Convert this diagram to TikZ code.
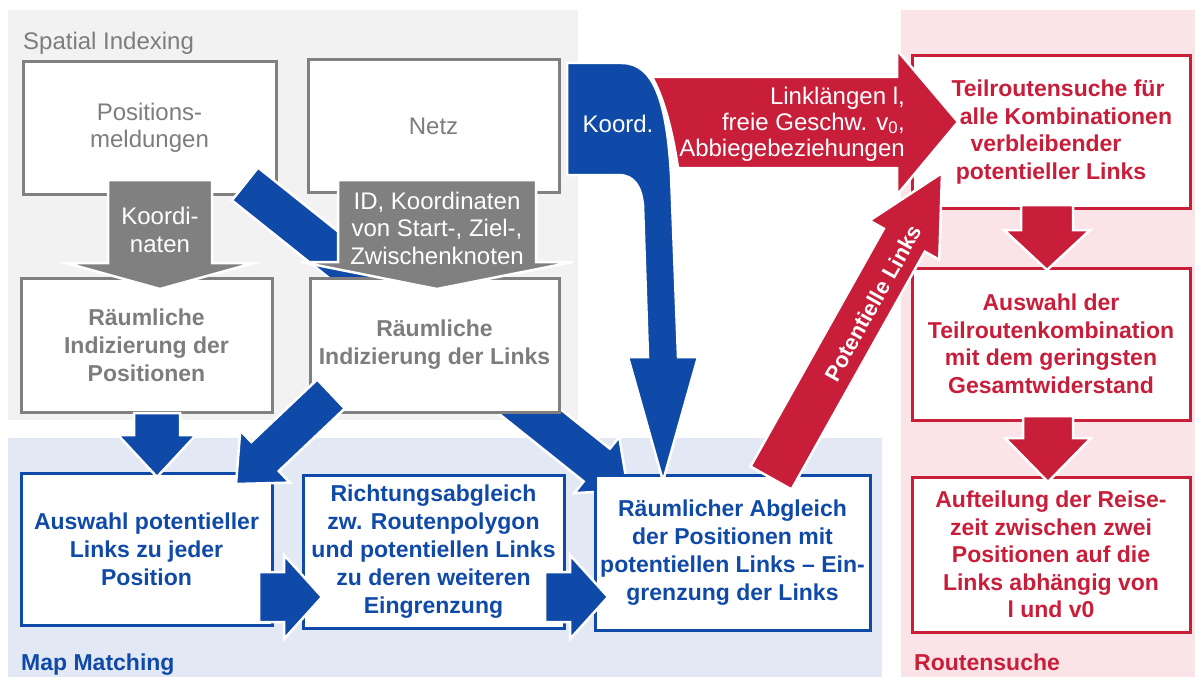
\documentclass[tikz,border=0pt]{standalone}
\usepackage{fontspec}
\setmainfont{Liberation Sans}
\usetikzlibrary{calc}
\definecolor{blueC}{RGB}{16,74,168}
\definecolor{redC}{RGB}{200,30,58}
\definecolor{grayA}{RGB}{128,128,128}
\definecolor{grayT}{RGB}{125,125,125}
\definecolor{grayBG}{RGB}{242,242,242}
\definecolor{blueBG}{RGB}{227,233,244}
\definecolor{pinkBG}{RGB}{251,228,232}
% fat arrow: #1 style, #2 tail coordinate, #3 tip coordinate, #4 half shaft, #5 half head, #6 head length
\newcommand\fatarrow[6]{%
  \coordinate (fahb) at ($(#3)!#6!(#2)$);
  \filldraw[#1] ($(#2)!#4!90:(#3)$) -- ($(fahb)!#4!-90:(#2)$) -- ($(fahb)!#5!-90:(#2)$) -- (#3)
    -- ($(fahb)!#5!90:(#2)$) -- ($(fahb)!#4!90:(#2)$) -- ($(#2)!#4!-90:(#3)$) -- cycle;}
\begin{document}
\begin{tikzpicture}[x=1pt,y=-1pt,
  boxbase/.style={fill=white, line width=3pt, align=center, inner sep=0pt},
  grayboxR/.style={boxbase, draw=grayA, text=grayT, font=\fontsize{24}{27.5}\selectfont},
  grayboxB/.style={boxbase, draw=grayA, text=grayT, font=\fontsize{23}{28}\selectfont\bfseries},
  bluebox/.style={boxbase, draw=blueC, text=blueC, font=\fontsize{23}{28}\selectfont\bfseries},
  redbox/.style={boxbase, draw=redC, text=redC, font=\fontsize{23}{27.5}\selectfont\bfseries},
  bluearrow/.style={fill=blueC, draw=white, line width=2.5pt, line join=miter},
  redarrow/.style={fill=redC, draw=white, line width=2.5pt, line join=miter},
  grayarrow/.style={fill=grayA, draw=white, line width=2.5pt, line join=miter},
  arrowlabel/.style={text=white, align=center, inner sep=0pt, font=\fontsize{24}{27.5}\selectfont},
  regionlabel/.style={anchor=base west, inner sep=0pt}]
\useasboundingbox (0,0) rectangle (1195,677);
\fill[white] (0,0) rectangle (1195,677);
% backgrounds
\fill[grayBG] (8,10) rectangle (578,420);
\fill[blueBG] (8,438) rectangle (882,677);
\fill[pinkBG] (901,10) rectangle (1195,677);
\node[regionlabel, text=grayT, font=\fontsize{24}{28}\selectfont] (lsi) at (23,50) {Spatial Indexing};
\node[regionlabel, text=blueC, font=\fontsize{23}{28}\selectfont\bfseries] (lmm) at (21,670) {Map Matching};
\node[regionlabel, text=redC, font=\fontsize{23}{28}\selectfont\bfseries] (lrs) at (914,670) {Routensuche};
% upper gray boxes
\node[grayboxR, minimum width=253pt, minimum height=132pt] (posm) at (149.5,128) {Positions-\\meldungen};
\node[grayboxR, minimum width=251pt, minimum height=132pt] (netz) at (433.5,126) {Netz};
% long blue diagonal (behind links box and gray arrow)
\coordinate (d1a) at (245,184);
\coordinate (d1b) at (628,490);
\fatarrow{bluearrow}{d1a}{d1b}{21pt}{36pt}{40pt}
% lower gray boxes
\node[grayboxB, minimum width=251pt, minimum height=134pt] (rip) at (146.5,345) {Räumliche\\Indizierung der\\Positionen};
\node[grayboxB, minimum width=249pt, minimum height=134pt] (ril) at (434.5,345) {Räumliche\\Indizierung der Links};
% blue boxes
\node[bluebox, minimum width=251pt, minimum height=152pt] (ausw) at (146.5,549) {Auswahl potentieller\\Links zu jeder\\Position};
\node[bluebox, minimum width=261pt, minimum height=153pt] (richt) at (433.5,551.5) {Richtungsabgleich\\zw. Routenpolygon\\und potentiellen Links\\zu deren weiteren\\Eingrenzung};
\node[bluebox, minimum width=275pt, minimum height=155pt] (abgl) at (732.5,552.5) {Räumlicher Abgleich\\der Positionen mit\\potentiellen Links – Ein-\\grenzung der Links};
% red boxes
\node[redbox, minimum width=278pt, minimum height=152pt] (teil) at (1051,132) {\hspace*{14pt}Teilroutensuche für\\\hspace*{30pt}alle Kombinationen\\\hspace*{-10pt}verbleibender\\potentieller Links};
\node[redbox, minimum width=278pt, minimum height=152pt] (ausT) at (1051,344) {Auswahl der\\Teilroutenkombination\\mit dem geringsten\\Gesamtwiderstand};
\node[redbox, minimum width=278pt, minimum height=155pt] (aufT) at (1051,554.5) {Aufteilung der Reise-\\zeit zwischen zwei\\Positionen auf die\\Links abhängig von\\l und v0};
% gray arrows
\coordinate (g1a) at (160,180); \coordinate (g1b) at (160,289);
\fatarrow{grayarrow}{g1a}{g1b}{52pt}{94pt}{26pt}
\node[arrowlabel] (lg1) at (160,230) {Koordi-\\naten};
\coordinate (g2a) at (437,180); \coordinate (g2b) at (437,289);
\fatarrow{grayarrow}{g2a}{g2b}{99pt}{136pt}{27pt}
\node[arrowlabel] (lg2) at (437,228) {ID, Koordinaten\\von Start-, Ziel-,\\Zwischenknoten};
% blue arrows
\coordinate (b2a) at (157,413); \coordinate (b2b) at (157,477);
\fatarrow{bluearrow}{b2a}{b2b}{23pt}{39pt}{42pt}
\coordinate (b3a) at (331,394); \coordinate (b3b) at (236,484);
\fatarrow{bluearrow}{b3a}{b3b}{20pt}{36pt}{40pt}
\coordinate (b4a) at (259,597); \coordinate (b4b) at (322,597);
\fatarrow{bluearrow}{b4a}{b4b}{25pt}{42pt}{38pt}
\coordinate (b5a) at (545,597); \coordinate (b5b) at (608,597);
\fatarrow{bluearrow}{b5a}{b5b}{25pt}{42pt}{38pt}
% Koord. arrow from Netz level to Raeumlicher Abgleich
\coordinate (kt) at (663,481);
\filldraw[bluearrow] (567,63) -- (622,63) .. controls (655,63) and (667,105) .. (671,175)
  -- (678,357) -- (698,357) -- (kt) -- (628,357) -- (648,357) -- (643,205)
  .. controls (641,186) and (634,175) .. (618,175) -- (567,175) -- cycle;
\node[arrowlabel] (lk) at (618,124) {Koord.};
% red arrow Linklaengen
\coordinate (rt) at (958,122);
\filldraw[redarrow] (652,77) -- (897,77) -- (897,50) -- (rt) -- (897,195) -- (897,168) -- (678,168)
  .. controls (673,135) and (665,100) .. (652,77) -- cycle;
\node[arrowlabel, align=right, anchor=east, font=\fontsize{24}{26}\selectfont] (lr) at (905,124) {Linklängen l,\\freie Geschw. v\textsubscript{0},\\Abbiegebeziehungen};
% red arrow Potentielle Links
\coordinate (p1a) at (771,478); \coordinate (p1b) at (942,173);
\fatarrow{redarrow}{p1a}{p1b}{23.5pt}{40pt}{77pt}
\node[arrowlabel, rotate=60.7, font=\fontsize{22}{26}\selectfont\bfseries] (lp) at (873,303) {Potentielle Links};
% red vertical arrows
\coordinate (r1a) at (1047,205); \coordinate (r1b) at (1047,270);
\fatarrow{redarrow}{r1a}{r1b}{26pt}{43pt}{40pt}
\coordinate (r2a) at (1048,416); \coordinate (r2b) at (1048,482);
\fatarrow{redarrow}{r2a}{r2b}{25pt}{43pt}{44pt}
\end{tikzpicture}
\end{document}
